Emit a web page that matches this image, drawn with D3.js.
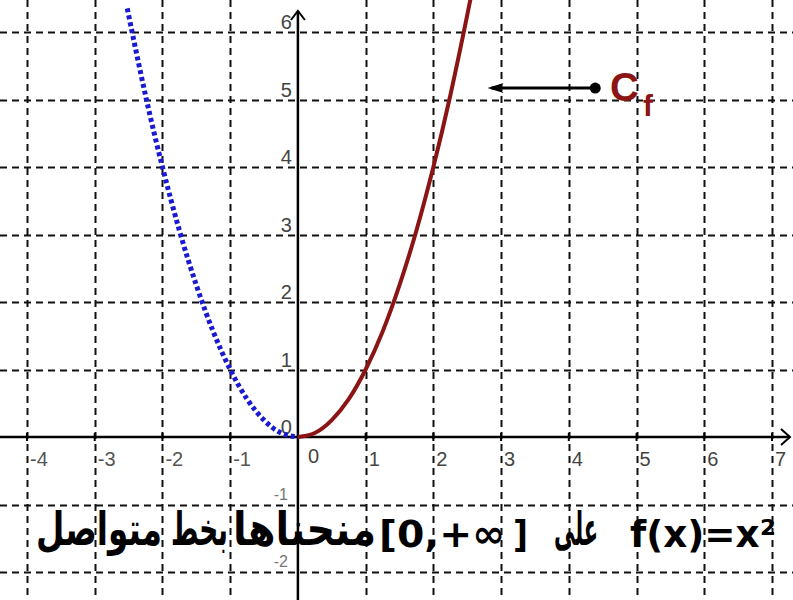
<!DOCTYPE html>
<html>
<head>
<meta charset="utf-8">
<script src="https://cdn.jsdelivr.net/npm/d3@7"></script>
<style>
  html, body { margin: 0; padding: 0; background: #fff; }
  svg { display: block; }
</style>
</head>
<body>
<svg id="chart" width="793" height="600"></svg>
<script>
// values
const xTicks = [-4, -3, -2, -1, 0, 1, 2, 3, 4, 5, 6, 7];
const yTicks = [-2, -1, 0, 1, 2, 3, 4, 5, 6];

// left branch (x <= 0), dotted blue
const leftBranch = [
  [-2.52, 6.35], [-2.25, 5.06], [-2, 4], [-1.75, 3.06], [-1.5, 2.25],
  [-1.25, 1.56], [-1, 1], [-0.75, 0.56], [-0.5, 0.25], [-0.25, 0.06], [0, 0]
];
// right branch (x >= 0), solid dark red
const rightBranch = [
  [0, 0], [0.25, 0.06], [0.5, 0.25], [0.75, 0.56], [1, 1], [1.25, 1.56],
  [1.5, 2.25], [1.75, 3.06], [2, 4], [2.25, 5.06], [2.5, 6.25], [2.6, 6.76]
];

// pointer to the curve label
const pointer = { from: [4.39, 5.17], to: [2.8, 5.17] };

// bottom caption, visual order left to right
const caption = [
  { text: "متواصل", x0: 36, x1: 162, arabic: true },
  { text: "بخط", x0: 171, x1: 228, arabic: true },
  { text: "منحناها", x0: 233, x1: 376, arabic: true },
  { text: "[0,+∞", x0: 379, x1: 505, arabic: false },
  { text: "]", x0: 513, x1: 528, arabic: false },
  { text: "على", x0: 554, x1: 598, arabic: true },
  { text: "f(x)=x²", x0: 630, x1: 776, arabic: false }
];

const svg = d3.select("#chart");
const W = 793, H = 600;

const x = d3.scaleLinear().domain([-4, 7]).range([27, 772]);
const y = d3.scaleLinear().domain([-2, 6]).range([572, 32]);

svg.append("defs").append("clipPath").attr("id", "clip")
  .append("rect").attr("width", W).attr("height", H);

// grid
const grid = svg.append("g").attr("class", "grid")
  .attr("stroke", "#111")
  .attr("stroke-width", 2)
  .attr("stroke-dasharray", "7,5");

grid.selectAll("line.v")
  .data(xTicks.filter(d => d !== 0))
  .join("line")
    .attr("class", "v")
    .attr("x1", d => Math.round(x(d)) + 0.5)
    .attr("x2", d => Math.round(x(d)) + 0.5)
    .attr("y1", 0)
    .attr("y2", H);

grid.selectAll("line.h")
  .data(yTicks.filter(d => d !== 0))
  .join("line")
    .attr("class", "h")
    .attr("y1", d => Math.round(y(d)) + 0.5)
    .attr("y2", d => Math.round(y(d)) + 0.5)
    .attr("x1", 0)
    .attr("x2", W);

// axes
const axes = svg.append("g").attr("stroke", "#000").attr("fill", "none")
  .attr("stroke-width", 2.5);

axes.append("line")
  .attr("x1", 0).attr("x2", 790)
  .attr("y1", y(0)).attr("y2", y(0));
axes.append("path")
  .attr("d", `M781,${y(0) - 8} L790,${y(0)} L781,${y(0) + 8}`)
  .attr("stroke-width", 2);

axes.append("line")
  .attr("x1", x(0)).attr("x2", x(0))
  .attr("y1", H).attr("y2", 11);
axes.append("path")
  .attr("d", `M${x(0) - 7},20 L${x(0)},11 L${x(0) + 7},20`)
  .attr("stroke-width", 2);

// small ticks on the x axis
axes.selectAll("line.tick")
  .data(xTicks.filter(d => d !== 0))
  .join("line")
    .attr("class", "tick")
    .attr("x1", d => x(d)).attr("x2", d => x(d))
    .attr("y1", y(0) - 4).attr("y2", y(0) + 4)
    .attr("stroke-width", 2);

// tick labels
const labelFont = "'Liberation Sans', Arial, sans-serif";

svg.append("g").selectAll("text")
  .data(xTicks)
  .join("text")
    .attr("x", d => x(d) + (d === 0 ? 10 : 3))
    .attr("y", d => y(0) + (d === 0 ? 26 : 29))
    .attr("font-family", labelFont)
    .attr("font-size", 20)
    .attr("fill", d => d < 0 ? "#555" : "#444")
    .text(d => d);

svg.append("g").selectAll("text")
  .data(yTicks)
  .join("text")
    .attr("x", d => x(0) - (d < 0 ? 10 : 6))
    .attr("y", d => y(d) - (d < 0 ? 5 : 3))
    .attr("text-anchor", "end")
    .attr("font-family", labelFont)
    .attr("font-size", d => d < 0 ? 16 : 20)
    .attr("fill", d => d < 0 ? "#777" : "#444")
    .text(d => d);

// curves
const line = d3.line()
  .x(d => x(d[0]))
  .y(d => y(d[1]))
  .curve(d3.curveNatural);

const curves = svg.append("g").attr("clip-path", "url(#clip)").attr("fill", "none");

curves.append("path")
  .datum(leftBranch)
  .attr("d", line)
  .attr("stroke", "#1a1ad0")
  .attr("stroke-width", 5)
  .attr("stroke-dasharray", "4,3");

curves.append("path")
  .datum(rightBranch)
  .attr("d", line)
  .attr("stroke", "#8b1414")
  .attr("stroke-width", 4);

// pointer arrow and label
const px0 = x(pointer.from[0]), px1 = x(pointer.to[0]), py = y(pointer.from[1]);
svg.append("line")
  .attr("x1", px0).attr("x2", px1 + 4)
  .attr("y1", py).attr("y2", py)
  .attr("stroke", "#000").attr("stroke-width", 3);
svg.append("path")
  .attr("d", `M${px1},${py} L${px1 + 16},${py - 5} L${px1 + 12},${py} L${px1 + 16},${py + 5} Z`)
  .attr("fill", "#000");
svg.append("circle")
  .attr("cx", px0).attr("cy", py).attr("r", 5.5)
  .attr("fill", "#000");

const cf = svg.append("text")
  .attr("x", 610).attr("y", 101)
  .attr("font-family", labelFont)
  .attr("font-weight", "bold")
  .attr("font-size", 40)
  .attr("fill", "#8b1414");
cf.append("tspan").text("C");
cf.append("tspan")
  .attr("x", 643).attr("y", 116)
  .attr("font-size", 30)
  .text("f");

// bottom caption
svg.append("g").selectAll("text")
  .data(caption)
  .join("text")
    .attr("x", d => d.x0)
    .attr("y", d => d.arabic ? 545 : 547)
    .attr("font-family", "'DejaVu Sans', sans-serif")
    .attr("font-weight", "bold")
    .attr("font-size", d => d.arabic ? 46 : 38)
    .attr("fill", "#000")
    .attr("textLength", d => d.x1 - d.x0)
    .attr("lengthAdjust", "spacingAndGlyphs")
    .text(d => d.text);
</script>
</body>
</html>
